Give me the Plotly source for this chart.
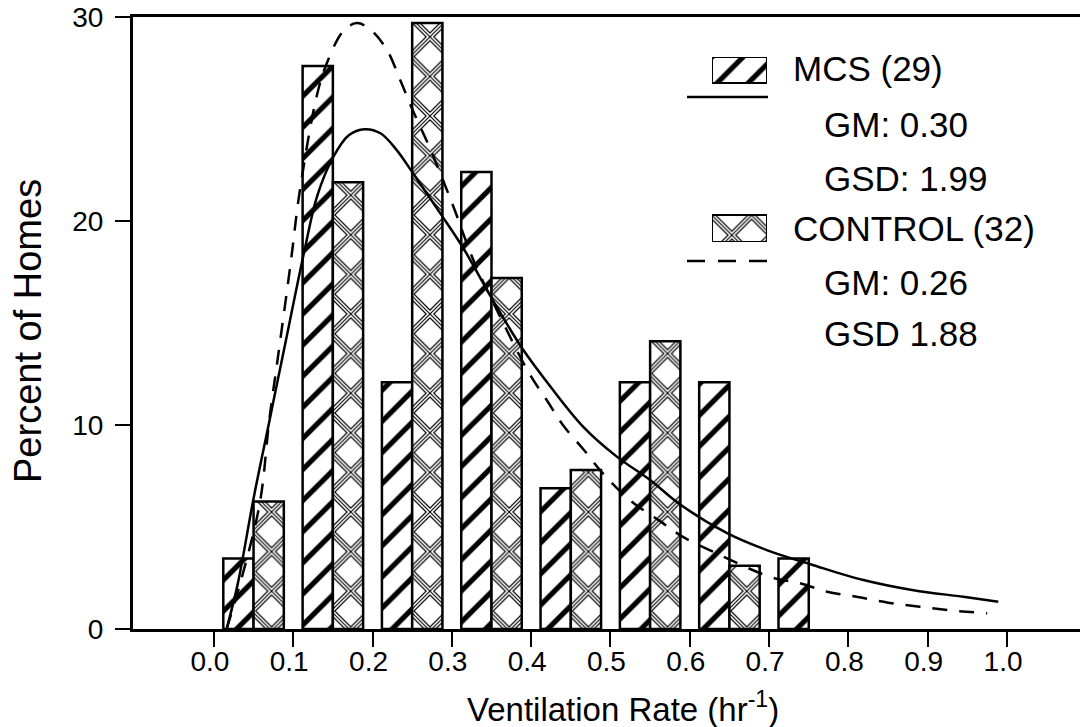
import plotly.graph_objects as go

# ---------------- data ----------------
bin_centers = [0.05, 0.15, 0.25, 0.35, 0.45, 0.55, 0.65, 0.75]
mcs_pct = [3.45, 27.6, 12.1, 22.4, 6.9, 12.1, 12.1, 3.45]
control_pct = [6.25, 21.9, 29.7, 17.2, 7.8, 14.1, 3.1, None]

mcs_curve_x = [0.016, 0.03, 0.05, 0.07, 0.09, 0.115, 0.13, 0.15, 0.17, 0.19, 0.21, 0.23,
               0.25, 0.285, 0.314, 0.352, 0.388, 0.424, 0.466, 0.508, 0.55, 0.588, 0.647,
               0.697, 0.755, 0.819, 0.882, 0.945, 0.989]
mcs_curve_y = [0.0, 2.2, 6.4, 10.2, 14.0, 18.7, 21.2, 23.1, 24.2, 24.5, 24.3, 23.5,
               22.4, 20.4, 18.7, 16.1, 13.8, 11.9, 9.9, 8.45, 7.3, 6.1, 4.7,
               3.87, 3.14, 2.4, 1.9, 1.58, 1.34]

ctrl_curve_x = [0.016, 0.035, 0.058, 0.07, 0.081, 0.097, 0.108, 0.1295, 0.142, 0.163, 0.18,
                0.197, 0.218, 0.235, 0.251, 0.272, 0.302, 0.327, 0.361, 0.398, 0.42, 0.44,
                0.466, 0.491, 0.525, 0.562, 0.592, 0.625, 0.701, 0.739, 0.773, 0.81, 0.85,
                0.89, 0.932, 0.975]
ctrl_curve_y = [0.0, 2.5, 6.2, 10.3, 13.4, 18.0, 21.4, 26.1, 27.7, 29.3, 29.7,
                29.4, 28.4, 26.9, 25.4, 23.6, 20.7, 18.1, 15.3, 12.5, 11.2, 10.0,
                8.8, 7.6, 6.3, 5.3, 4.5, 3.87, 2.56, 2.24, 1.83, 1.58, 1.29,
                1.09, 0.9, 0.77]

x_tickvals = [0.0, 0.1, 0.2, 0.3, 0.4, 0.5, 0.6, 0.7, 0.8, 0.9, 1.0]
x_ticktext = ["0.0", "0.1", "0.2", "0.3", "0.4", "0.5", "0.6", "0.7", "0.8", "0.9", "1.0"]
y_tickvals = [0, 10, 20, 30]
y_ticktext = ["0", "10", "20", "30"]

legend_rows = [
    ("MCS (29)", "head"),
    ("GM: 0.30", "sub"),
    ("GSD: 1.99", "sub"),
    ("CONTROL (32)", "head"),
    ("GM: 0.26", "sub"),
    ("GSD 1.88", "sub"),
]

# ---------------- styles ----------------
FONT = "Liberation Sans, Arial, Helvetica, sans-serif"
BLACK = "black"
CLEAR = "rgba(0,0,0,0)"
W, H = 1080, 727
ML, MR, MT, MB = 133, 0, 17, 98
PW, PH = W - ML - MR, H - MT - MB


def px_to_paper_x(px):
    return (px - ML) / PW


def px_to_paper_y(py):
    return (H - MB - py) / PH


mcs_pattern = dict(shape="/", size=22, solidity=0.24, fgcolor=BLACK, bgcolor="white", fillmode="replace")
# triple-line cross hatch built from three aligned "x" patterns
XSIZE = 28
ctrl_layers = [
    dict(shape="x", size=XSIZE, solidity=0.42, fgcolor=BLACK, bgcolor="white", fillmode="replace"),
    dict(shape="x", size=XSIZE, solidity=0.28, fgcolor="white", bgcolor=CLEAR, fillmode="overlay", fgopacity=1),
    dict(shape="x", size=XSIZE, solidity=0.08, fgcolor=BLACK, bgcolor=CLEAR, fillmode="overlay", fgopacity=1),
]

fig = go.Figure()

fig.add_trace(go.Bar(
    x=bin_centers, y=mcs_pct, name="MCS (29)", offsetgroup="mcs",
    marker=dict(color="white", pattern=mcs_pattern, line=dict(color=BLACK, width=2.5)),
    showlegend=False,
))
for i, pat in enumerate(ctrl_layers):
    fig.add_trace(go.Bar(
        x=bin_centers, y=control_pct, name="CONTROL (32)", offsetgroup="ctrl",
        marker=dict(color="white" if i == 0 else CLEAR, pattern=pat,
                    line=dict(color=BLACK, width=2.5 if i == 2 else 0)),
        showlegend=False, hoverinfo="skip" if i else None,
    ))
fig.add_trace(go.Scatter(
    x=mcs_curve_x, y=mcs_curve_y, mode="lines",
    line=dict(color=BLACK, width=2.5, shape="spline", smoothing=1.0),
    showlegend=False,
))
fig.add_trace(go.Scatter(
    x=ctrl_curve_x, y=ctrl_curve_y, mode="lines",
    line=dict(color=BLACK, width=2.5, dash="15px,12px", shape="spline", smoothing=1.0),
    showlegend=False,
))

# ---------------- legend (drawn by hand) ----------------
sw_x0, sw_x1 = 712, 767
sw_top, sw_bot = 57, 242
fig.add_trace(go.Bar(
    x=[0], y=[26], base=[sw_bot - 83], width=[1], offset=[-0.5],
    xaxis="x2", yaxis="y2",
    marker=dict(color="white", pattern=mcs_pattern, line=dict(color=BLACK, width=2)),
    showlegend=False, hoverinfo="skip",
))
for i, pat in enumerate(ctrl_layers):
    fig.add_trace(go.Bar(
        x=[0], y=[27], base=[0], width=[1], offset=[-0.5],
        xaxis="x2", yaxis="y2",
        marker=dict(color="white" if i == 0 else CLEAR, pattern=pat,
                    line=dict(color=BLACK, width=2 if i == 2 else 0)),
        showlegend=False, hoverinfo="skip",
    ))

row_y = [68, 124, 179, 228, 282, 334]
row_x = {"head": 791, "sub": 822}
annotations = []
for (txt, kind), yy in zip(legend_rows, row_y):
    annotations.append(dict(
        x=px_to_paper_x(row_x[kind]), y=px_to_paper_y(yy), xref="paper", yref="paper",
        text=txt, showarrow=False, xanchor="left", yanchor="middle",
        font=dict(family=FONT, size=35, color=BLACK),
    ))

annotations.append(dict(
    x=px_to_paper_x(623), y=px_to_paper_y(707), xref="paper", yref="paper",
    text="Ventilation Rate (hr<sup>-1</sup>)", showarrow=False,
    xanchor="center", yanchor="middle",
    font=dict(family=FONT, size=33, color=BLACK),
))
annotations.append(dict(
    x=px_to_paper_x(28), y=px_to_paper_y(331), xref="paper", yref="paper",
    text="Percent of Homes", showarrow=False, textangle=-90,
    xanchor="center", yanchor="middle",
    font=dict(family=FONT, size=38, color=BLACK),
))

shapes = [
    dict(type="line", xref="paper", yref="paper",
         x0=px_to_paper_x(687), x1=px_to_paper_x(768),
         y0=px_to_paper_y(97), y1=px_to_paper_y(97),
         line=dict(color=BLACK, width=2.5)),
    dict(type="line", xref="paper", yref="paper",
         x0=px_to_paper_x(687), x1=px_to_paper_x(768),
         y0=px_to_paper_y(261), y1=px_to_paper_y(261),
         line=dict(color=BLACK, width=2.5, dash="18px,13px")),
]

fig.update_layout(
    width=W, height=H,
    margin=dict(l=ML, r=MR, t=MT, b=MB, pad=0),
    paper_bgcolor="white", plot_bgcolor="white",
    barmode="group", bargap=0.237, bargroupgap=0.0,
    font=dict(family=FONT, color=BLACK),
    annotations=annotations, shapes=shapes,
    xaxis=dict(
        range=[-0.102, 1.092], tickvals=x_tickvals, ticktext=x_ticktext,
        showgrid=False, zeroline=False, showline=True, linecolor=BLACK, linewidth=3,
        mirror=True, ticks="outside", ticklen=15, tickwidth=2, tickcolor=BLACK,
        tickfont=dict(family=FONT, size=28, color=BLACK), ticklabelstandoff=-10,
        ticklabelshift=-4,
    ),
    yaxis=dict(
        range=[0, 30], tickvals=y_tickvals, ticktext=y_ticktext,
        showgrid=False, zeroline=False, showline=True, linecolor=BLACK, linewidth=3,
        ticks="outside", ticklen=15, tickwidth=2, tickcolor=BLACK,
        tickfont=dict(family=FONT, size=28, color=BLACK), ticklabelstandoff=6,
    ),
    xaxis2=dict(domain=[px_to_paper_x(sw_x0), px_to_paper_x(sw_x1)], range=[-0.5, 0.5],
                visible=False, anchor="y2", fixedrange=True),
    yaxis2=dict(domain=[px_to_paper_y(sw_bot), px_to_paper_y(sw_top)], range=[0, sw_bot - sw_top],
                visible=False, anchor="x2", fixedrange=True),
)

fig.write_html("out.html")
